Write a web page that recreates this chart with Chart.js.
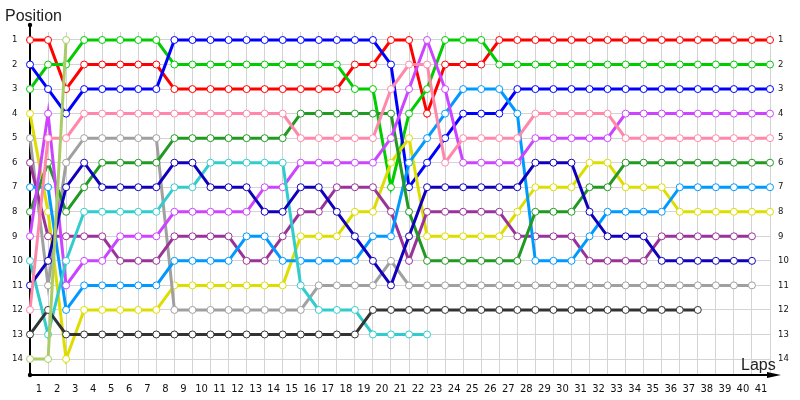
<!DOCTYPE html>
<html>
<head>
<meta charset="utf-8">
<script src="https://cdn.jsdelivr.net/npm/chart.js@4.4.1/dist/chart.umd.min.js"></script>
<style>
  html, body { margin: 0; padding: 0; background: #fff; }
</style>
</head>
<body>
<canvas id="lapChart" width="800" height="400"></canvas>
<script>
// lap 0 is the grid, labels 1..41 sit between the grid lines
const laps = [0, 1, 2, 3, 4, 5, 6, 7, 8, 9, 10, 11, 12, 13, 14, 15, 16, 17, 18, 19, 20,
  21, 22, 23, 24, 25, 26, 27, 28, 29, 30, 31, 32, 33, 34, 35, 36, 37, 38, 39, 40, 41];
const positions = [1, 2, 3, 4, 5, 6, 7, 8, 9, 10, 11, 12, 13, 14];

// position of each car after every lap (shorter arrays = retired)
const red       = [1,1,3,2,2,2,2,2,3,3, 3,3,3,3,3,3,3,3,2,2, 1,1,4,2,2,2,1,1,1,1, 1,1,1,1,1,1,1,1,1,1, 1,1];
const green     = [3,2,2,1,1,1,1,1,2,2, 2,2,2,2,2,2,2,2,3,3, 7,4,3,1,1,1,2,2,2,2, 2,2,2,2,2,2,2,2,2,2, 2,2];
const blue      = [2,3,4,3,3,3,3,3,1,1, 1,1,1,1,1,1,1,1,1,1, 2,7,6,5,4,4,4,3,3,3, 3,3,3,3,3,3,3,3,3,3, 3,3];
const yellow    = [4,8,14,12,12,12,12,12,11,11, 11,11,11,11,11,9,9,9,8,8, 6,5,9,9,9,9,9,8,7,7, 7,6,6,7,7,7,8,8,8,8, 8,8];
const grey      = [5,11,6,5,5,5,5,5,12,12, 12,12,12,12,12,12,11,11,11,11, 10,11,11,11,11,11,11,11,11,11, 11,11,11,11,11,11,11,11,11,11, 11];
const purple    = [6,9,9,9,9,10,10,10,9,9, 9,9,10,10,9,8,8,7,7,7, 8,10,8,8,8,8,8,9,9,9, 9,10,10,10,10,9,9,9,9,9, 9];
const lightBlue = [7,7,12,11,11,11,11,11,10,10, 10,10,9,9,10,10,10,10,10,9, 9,6,5,4,3,3,3,4,10,10, 10,9,8,8,8,8,7,7,7,7, 7,7];
const darkGreen = [8,6,8,7,6,6,6,6,5,5, 5,5,5,5,5,4,4,4,4,4, 4,8,10,10,10,10,10,10,8,8, 8,7,7,6,6,6,6,6,6,6, 6,6];
const violet    = [9,4,11,10,10,9,9,9,8,8, 8,8,8,7,7,6,6,6,6,6, 5,3,1,3,6,6,6,6,5,5, 5,5,5,4,4,4,4,4,4,4, 4,4];
const cyan      = [10,13,10,8,8,8,8,8,7,7, 6,6,6,6,6,11,12,12,12,13, 13,13,13];
const navy      = [11,10,7,6,7,7,7,7,6,6, 7,7,7,8,8,7,7,8,9,10, 11,9,7,7,7,7,7,7,6,6, 6,8,9,9,9,10,10,10,10,10, 10];
const pink      = [12,5,5,4,4,4,4,4,4,4, 4,4,4,4,4,5,5,5,5,5, 3,2,2,6,5,5,5,5,4,4, 4,4,4,5,5,5,5,5,5,5, 5,5];
const black     = [13,12,13,13,13,13,13,13,13,13, 13,13,13,13,13,13,13,13,13,12, 12,12,12,12,12,12,12,12,12,12, 12,12,12,12,12,12,12,12];
const olive     = [14,14,1];

const cars = [
    { data: red,       color: "#ff0000" },
    { data: green,     color: "#00cc00" },
    { data: blue,      color: "#0000ff" },
    { data: yellow,    color: "#dddd00" },
    { data: grey,      color: "#a0a0a0" },
    { data: purple,    color: "#993399" },
    { data: lightBlue, color: "#0099ff" },
    { data: darkGreen, color: "#229922" },
    { data: violet,    color: "#cc44ff" },
    { data: cyan,      color: "#33cccc" },
    { data: navy,      color: "#1100bb" },
    { data: pink,      color: "#ff88aa" },
    { data: black,     color: "#333333" },
    { data: olive,     color: "#aacc66" }
];

// axis lines with the little arrow ends, plus the two axis captions
const axisDecor = {
    id: "axisDecor",
    beforeDatasetsDraw(chart) {
        const { ctx, chartArea: a } = chart;
        ctx.save();
        ctx.strokeStyle = "#000";
        ctx.fillStyle = "#000";
        ctx.lineWidth = 2;
        ctx.beginPath();
        ctx.moveTo(a.left, 25);
        ctx.lineTo(a.left, a.bottom);
        ctx.lineTo(776, a.bottom);
        ctx.stroke();
        ctx.beginPath();
        ctx.arc(a.left, 25, 2.2, 0, Math.PI * 2);
        ctx.fill();
        ctx.beginPath();
        ctx.arc(a.left, a.bottom, 2.2, 0, Math.PI * 2);
        ctx.fill();
        ctx.beginPath();
        ctx.moveTo(781, a.bottom);
        ctx.lineTo(767, a.bottom - 3);
        ctx.lineTo(767, a.bottom + 3);
        ctx.closePath();
        ctx.fill();
        ctx.restore();
    },
    afterDraw(chart) {
        const ctx = chart.ctx;
        ctx.save();
        ctx.fillStyle = "#222";
        ctx.font = "16px 'Liberation Sans'";
        ctx.textBaseline = "alphabetic";
        ctx.fillText("Position", 5, 21);
        ctx.fillText("Laps", 741, 370);
        ctx.restore();
    }
};

const yMin = 0.674, yMax = 14.652;
const tickFont = { family: "DejaVu Sans", size: 8.5 };

new Chart(document.getElementById("lapChart"), {
    type: "line",
    data: {
        labels: laps,
        datasets: cars.map((c, i) => ({
            data: c.data,
            order: cars.length - i, // later cars drawn on top
            borderColor: c.color,
            pointBorderColor: c.color,
            pointBackgroundColor: "#ffffff",
            borderWidth: 3,
            pointRadius: 3.5,
            pointBorderWidth: 1,
            tension: 0,
            fill: false
        }))
    },
    options: {
        responsive: false,
        animation: false,
        devicePixelRatio: 1,
        layout: { padding: { left: 12, top: 32, right: 0, bottom: 0 } },
        plugins: { legend: { display: false }, tooltip: { enabled: false } },
        scales: {
            x: {
                type: "category",
                offset: false,
                border: { display: false },
                grid: { color: "#d4d4d4", drawTicks: false, offset: false },
                ticks: {
                    autoSkip: false,
                    maxRotation: 0,
                    padding: 8,
                    labelOffset: -9,
                    color: "#111",
                    font: { family: "DejaVu Sans", size: 10 },
                    callback: function (v) { const l = this.getLabelForValue(v); return l === 0 ? "" : String(l); }
                },
                afterFit: s => { s.height = 25; }
            },
            y: {
                position: "left",
                reverse: true,
                min: yMin,
                max: yMax,
                border: { display: false },
                grid: { color: "#d4d4d4", drawTicks: false },
                afterBuildTicks: s => { s.ticks = positions.map(v => ({ value: v })); },
                ticks: { crossAlign: "far", padding: 0, color: "#111", font: tickFont },
                afterFit: s => { s.width = 18; }
            },
            y2: {
                position: "right",
                reverse: true,
                min: yMin,
                max: yMax,
                border: { display: false },
                grid: { display: false, drawTicks: false },
                afterBuildTicks: s => { s.ticks = positions.map(v => ({ value: v })); },
                ticks: { padding: 8, color: "#111", font: tickFont },
                afterFit: s => { s.width = 30; }
            }
        }
    },
    plugins: [axisDecor]
});
</script>
</body>
</html>
